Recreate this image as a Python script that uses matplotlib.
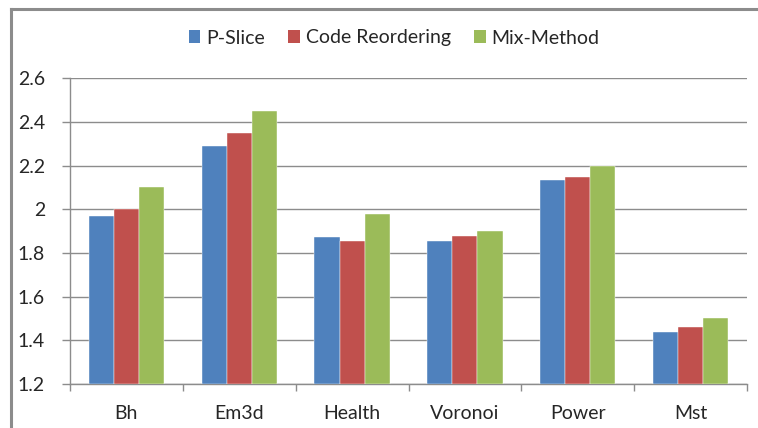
import matplotlib
matplotlib.use("Agg")
import matplotlib.pyplot as plt
from matplotlib.patches import Patch
from matplotlib.lines import Line2D
import numpy as np

categories = ["Bh", "Em3d", "Health", "Voronoi", "Power", "Mst"]
series_names = ["P-Slice", "Code Reordering", "Mix-Method"]
p_slice = [1.97, 2.29, 1.875, 1.853, 2.132, 1.439]
code_reordering = [2.00, 2.35, 1.853, 1.88, 2.15, 1.461]
mix_method = [2.10, 2.45, 1.98, 1.90, 2.20, 1.50]
y_ticks = [1.2, 1.4, 1.6, 1.8, 2.0, 2.2, 2.4, 2.6]
y_tick_labels = ["1.2", "1.4", "1.6", "1.8", "2", "2.2", "2.4", "2.6"]

colors = ["#4F81BD", "#C0504D", "#9BBB59"]
grid_color = "#8C8C8C"
text_color = "#262626"

plt.rcParams["font.family"] = ["Lato", "DejaVu Sans"]

W, H = 758, 428
fig = plt.figure(figsize=(W / 100, H / 100), dpi=100)
ax = fig.add_axes([70 / W, 1 - 384 / H, (747 - 70) / W, (384 - 78.3) / H])

x = np.arange(len(categories))
bar_w = 1 / 4.5
values = [p_slice, code_reordering, mix_method]
for i, (vals, c) in enumerate(zip(values, colors)):
    ax.bar(x + (i - 1) * bar_w, np.array(vals) - 1.2, bottom=1.2, width=bar_w,
           color=c, edgecolor="white", linewidth=0.3, zorder=3)

ax.set_xlim(-0.5, len(categories) - 0.5)
ax.set_ylim(1.2, 2.6)
ax.set_yticks(y_ticks)
ax.set_yticklabels(y_tick_labels)
ax.yaxis.grid(True, color=grid_color, linewidth=1.0, zorder=0)
ax.set_axisbelow(True)

for side in ["top", "right"]:
    ax.spines[side].set_visible(False)
for side in ["left", "bottom"]:
    ax.spines[side].set_color(grid_color)
    ax.spines[side].set_linewidth(1.0)

ax.set_xticks(x)
ax.set_xticklabels(categories)
ax.tick_params(axis="x", length=0, pad=15, labelsize=14, labelcolor=text_color)
ax.set_xticks(np.arange(len(categories) + 1) - 0.5, minor=True)
ax.tick_params(axis="x", which="minor", length=5, color=grid_color, width=1.0)
ax.tick_params(axis="y", length=6, color=grid_color, width=1.0, pad=12,
               labelsize=14, labelcolor=text_color)

handles = [Patch(facecolor=c, edgecolor="none") for c in colors]
fig.legend(handles, series_names, loc="center", bbox_to_anchor=(394 / W, 1 - 38 / H),
           ncol=3, frameon=False, fontsize=14, handlelength=0.6, handleheight=0.6,
           handletextpad=0.3, columnspacing=1.2, labelcolor=text_color)

# outer chart frame
fig.add_artist(Line2D([10.5 / W, 10.5 / W], [0, 1 - 9 / H], transform=fig.transFigure,
                      color="#8C8C8C", linewidth=2.2))
fig.add_artist(Line2D([10.5 / W, 1], [1 - 9 / H, 1 - 9 / H], transform=fig.transFigure,
                      color="#8C8C8C", linewidth=2.2))

fig.savefig("out.png", dpi=100)
